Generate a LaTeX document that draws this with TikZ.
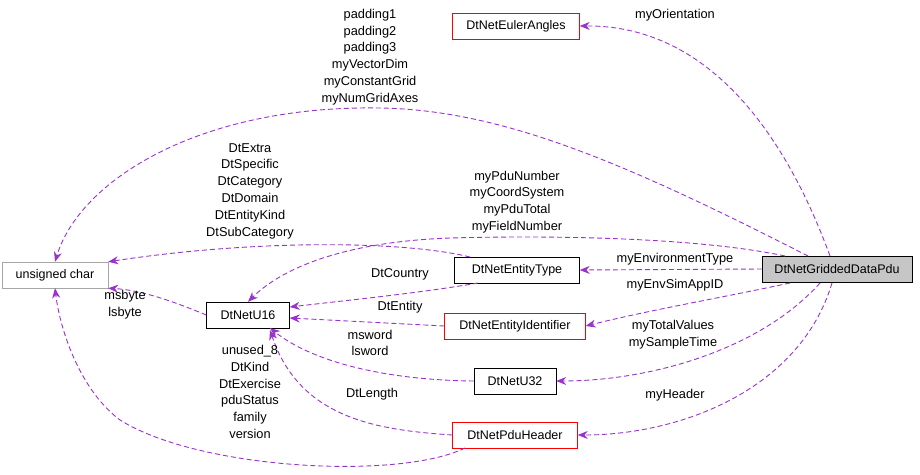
\documentclass[tikz,border=0pt]{standalone}
\usepackage{fontspec}
\setmainfont{Liberation Sans}
\usetikzlibrary{arrows.meta}
\definecolor{ec}{RGB}{154,50,205}
\begin{document}
\begin{tikzpicture}[x=1pt,y=-1pt,
  box/.style={draw=black,fill=white,minimum height=26pt,inner sep=0pt,font=\fontsize{12.5}{14}\selectfont},
  rbox/.style={box,draw=red},
  gbox/.style={box,draw=gray!70},
  lab/.style={font=\fontsize{12.8}{16.8}\selectfont,align=center,inner sep=0pt},
  e/.style={draw=ec,line width=0.9pt,dash pattern=on 5pt off 3pt,-{Stealth[length=10pt,width=8pt]}}]
\useasboundingbox (0,0) rectangle (920,474);
\node[box,fill=gray!45,minimum width=150pt] (g) at (837,269) {DtNetGriddedDataPdu};
\node[rbox,minimum width=127pt] (ea) at (516,26) {DtNetEulerAngles};
\node[gbox,minimum width=106pt] (uc) at (55,275) {unsigned char};
\node[box,minimum width=125pt] (et) at (517,270) {DtNetEntityType};
\node[box,minimum width=83pt] (u16) at (248,315) {DtNetU16};
\node[rbox,minimum width=141pt] (ei) at (515,326) {DtNetEntityIdentifier};
\node[box,minimum width=82pt] (u32) at (515,381) {DtNetU32};
\node[rbox,minimum width=125pt] (ph) at (515,435) {DtNetPduHeader};
\coordinate (a1) at (830,256);
\draw[e] (a1) .. controls (780,120) and (700,25) .. (ea.east);
\node[lab] at (675,15) {myOrientation};
\draw[e] (808,256) .. controls (620,160) and (500,110) .. (380,108) .. controls (200,105) and (80,180) .. (uc.north);
\node[lab] at (370,57) {padding1\\padding2\\padding3\\myVectorDim\\myConstantGrid\\myNumGridAxes};
\draw[e] (785,256) .. controls (700,238) and (560,235) .. (450,238) .. controls (340,242) and (280,270) .. (u16.north);
\node[lab] at (517,202) {myPduNumber\\myCoordSystem\\myPduTotal\\myFieldNumber};
\draw[e] (g.west) -- (et.east);
\node[lab] at (675,259) {myEnvironmentType};
\draw[e] (790,283) .. controls (720,298) and (650,310) .. (ei.east);
\node[lab] at (675,285) {myEnvSimAppID};
\draw[e] (820,283) .. controls (760,350) and (650,381) .. (u32.east);
\node[lab] at (673,335) {myTotalValues\\mySampleTime};
\draw[e] (832,283) .. controls (800,390) and (680,435) .. (ph.east);
\node[lab] at (675,395) {myHeader};
\draw[e] (470,257) .. controls (400,240) and (250,240) .. (uc.north east);
\node[lab] at (250,191) {DtExtra\\DtSpecific\\DtCategory\\DtDomain\\DtEntityKind\\DtSubCategory};
\draw[e] (478,283) .. controls (420,293) and (350,300) .. (u16.east |- 0,307);
\node[lab] at (400,274) {DtCountry};
\draw[e] (ei.west) -- (u16.east |- 0,318);
\node[lab] at (400,307) {DtEntity};
\draw[e] (u32.west) .. controls (380,380) and (310,360) .. (270,328);
\node[lab] at (370,343) {msword\\lsword};
\draw[e] (ph.west) .. controls (380,430) and (300,420) .. (270,330);
\node[lab] at (372,394) {DtLength};
\draw[e] (465,448) .. controls (400,480) and (200,470) .. (120,420) .. controls (80,390) and (60,330) .. (uc.south);
\node[lab] at (250,392) {unused\_8\\DtKind\\DtExercise\\pduStatus\\family\\version};
\draw[e] (u16.west) .. controls (170,300) and (140,290) .. (uc.south east);
\node[lab] at (125,305) {msbyte\\lsbyte};
\end{tikzpicture}
\end{document}
